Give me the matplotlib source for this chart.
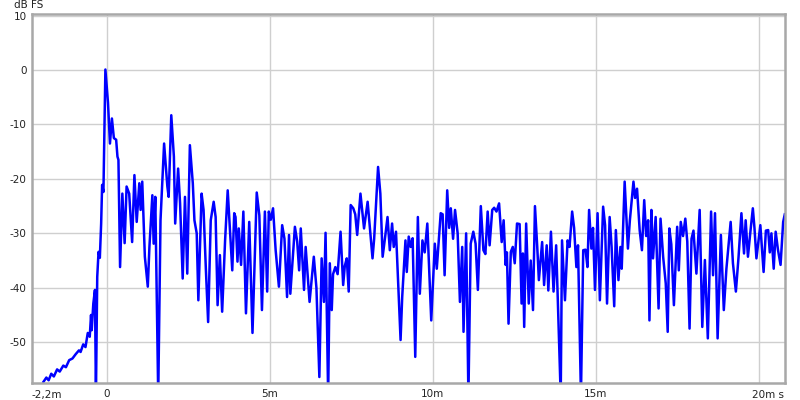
import matplotlib
matplotlib.use("Agg")
import matplotlib.pyplot as plt

# Impulse response (time in ms, level in dB FS)
t_ms = [
    -1.94, -1.85, -1.78, -1.70, -1.62, -1.52, -1.44, -1.33, -1.25, -1.15,
    -1.05, -0.95, -0.85, -0.80, -0.72, -0.65, -0.58, -0.52, -0.48, -0.46,
    -0.41, -0.36, -0.33, -0.29, -0.25, -0.21, -0.17, -0.14, -0.10, -0.04,
    0.04, 0.10, 0.16, 0.22, 0.29, 0.33, 0.36, 0.41, 0.48, 0.55,
    0.61, 0.69, 0.78, 0.85, 0.92, 1.00, 1.04, 1.09, 1.17, 1.26,
    1.31, 1.40, 1.44, 1.49, 1.58, 1.65, 1.76, 1.86, 1.90, 1.98,
    2.06, 2.10, 2.19, 2.25, 2.33, 2.40, 2.47, 2.55, 2.64, 2.69,
    2.76, 2.81, 2.91, 2.97, 3.04, 3.11, 3.19, 3.28, 3.34, 3.40,
    3.47, 3.54, 3.63, 3.71, 3.77, 3.85, 3.91, 3.95, 4.01, 4.05,
    4.12, 4.19, 4.27, 4.37, 4.47, 4.60, 4.68, 4.76, 4.85, 4.92,
    4.97, 5.03, 5.10, 5.18, 5.28, 5.38, 5.45, 5.53, 5.59, 5.63,
    5.77, 5.84, 5.90, 5.95, 6.05, 6.10, 6.22, 6.35, 6.43, 6.52,
    6.59, 6.66, 6.71, 6.79, 6.84, 6.90, 6.94, 7.01, 7.08, 7.17,
    7.25, 7.30, 7.36, 7.42, 7.48, 7.56, 7.62, 7.68, 7.78, 7.89,
    8.00, 8.15, 8.20, 8.32, 8.39, 8.46, 8.54, 8.61, 8.68, 8.75,
    8.80, 8.87, 9.01, 9.06, 9.16, 9.20, 9.26, 9.32, 9.38, 9.46,
    9.54, 9.60, 9.68, 9.75, 9.83, 9.95, 10.06, 10.12, 10.24, 10.30,
    10.36, 10.44, 10.50, 10.55, 10.62, 10.68, 10.76, 10.83, 10.90, 10.94,
    11.02, 11.09, 11.16, 11.24, 11.31, 11.38, 11.47, 11.55, 11.61, 11.68,
    11.74, 11.82, 11.88, 11.95, 12.03, 12.11, 12.17, 12.23, 12.27, 12.32,
    12.39, 12.45, 12.51, 12.58, 12.66, 12.72, 12.76, 12.80, 12.86, 12.94,
    13.00, 13.07, 13.13, 13.20, 13.25, 13.35, 13.41, 13.49, 13.54, 13.62,
    13.70, 13.78, 13.84, 13.92, 13.96, 14.05, 14.13, 14.19, 14.27, 14.33,
    14.40, 14.45, 14.54, 14.61, 14.68, 14.74, 14.79, 14.86, 14.91, 14.97,
    15.05, 15.12, 15.22, 15.28, 15.34, 15.42, 15.48, 15.56, 15.61, 15.69,
    15.75, 15.79, 15.88, 15.98, 16.04, 16.15, 16.20, 16.26, 16.34, 16.41,
    16.48, 16.54, 16.60, 16.64, 16.70, 16.75, 16.83, 16.92, 16.98, 17.06,
    17.14, 17.20, 17.25, 17.31, 17.39, 17.49, 17.54, 17.60, 17.67, 17.74,
    17.80, 17.87, 17.93, 17.99, 18.08, 18.18, 18.26, 18.34, 18.43, 18.53,
    18.59, 18.65, 18.73, 18.83, 18.92, 19.00, 19.13, 19.20, 19.29, 19.37,
    19.46, 19.54, 19.59, 19.66, 19.73, 19.81, 19.86, 19.92, 20.04, 20.14,
    20.21, 20.28, 20.33, 20.38, 20.45, 20.51, 20.58, 20.66, 20.74, 20.79,
]
level_db = [
    -57.3, -56.5, -57.0, -55.8, -56.3, -55.0, -55.4, -54.3, -54.6, -53.3,
    -53.0, -52.2, -51.5, -51.8, -50.4, -50.9, -48.3, -49.0, -45.0, -47.8,
    -42.9, -40.4, -60.0, -38.0, -33.4, -34.5, -28.2, -21.1, -22.4, 0.1,
    -6.0, -13.5, -8.9, -12.5, -12.8, -15.9, -16.5, -36.2, -22.7, -31.8,
    -21.4, -22.7, -31.6, -19.3, -27.9, -20.8, -25.7, -20.5, -34.3, -39.8,
    -32.5, -23.0, -31.9, -23.3, -60.0, -27.6, -13.5, -21.4, -23.3, -8.3,
    -15.9, -28.2, -18.1, -24.5, -38.3, -23.3, -37.4, -13.8, -20.8, -27.6,
    -30.0, -42.3, -22.7, -25.7, -36.5, -46.3, -27.6, -24.2, -27.0, -43.2,
    -34.0, -44.4, -31.3, -22.1, -28.5, -36.8, -26.3, -27.0, -35.2, -29.1,
    -35.8, -26.0, -44.7, -27.9, -48.3, -22.5, -26.7, -44.1, -26.0, -40.7,
    -26.0, -27.5, -25.4, -33.1, -39.8, -28.5, -31.0, -41.7, -30.3, -41.1,
    -28.8, -31.5, -36.8, -29.1, -40.4, -32.5, -42.6, -34.3, -40.0, -56.4,
    -34.6, -42.6, -29.9, -60.0, -35.5, -44.1, -37.5, -36.2, -37.5, -29.7,
    -39.5, -36.0, -34.6, -40.7, -24.8, -25.4, -26.5, -30.3, -22.7, -29.1,
    -24.2, -34.6, -31.0, -17.8, -22.7, -34.3, -30.5, -27.0, -33.1, -28.2,
    -32.5, -29.7, -49.6, -41.7, -31.3, -37.1, -30.6, -32.5, -30.9, -52.7,
    -27.0, -41.1, -31.3, -33.5, -28.2, -46.0, -31.9, -36.5, -26.3, -26.5,
    -37.7, -22.1, -29.0, -25.4, -31.0, -25.7, -30.0, -42.6, -32.5, -48.1,
    -30.0, -60.0, -31.9, -29.7, -31.9, -40.4, -25.0, -33.1, -33.8, -26.0,
    -32.2, -25.7, -25.3, -26.0, -24.5, -31.6, -27.6, -35.8, -33.5, -46.6,
    -33.4, -32.5, -35.5, -28.2, -28.3, -42.9, -33.7, -47.2, -28.2, -42.9,
    -35.0, -44.1, -25.0, -32.5, -38.6, -31.6, -39.5, -32.2, -40.5, -29.7,
    -40.7, -32.2, -44.4, -60.0, -31.3, -42.3, -31.3, -32.5, -26.0, -29.0,
    -36.2, -32.2, -60.0, -33.1, -33.0, -36.2, -25.7, -32.8, -29.0, -40.4,
    -26.3, -42.3, -25.1, -28.5, -42.9, -27.0, -32.5, -43.4, -29.4, -38.6,
    -32.5, -36.5, -20.5, -32.8, -27.6, -20.5, -23.5, -21.8, -29.4, -33.1,
    -23.9, -30.5, -27.6, -46.0, -25.7, -34.6, -27.0, -43.8, -27.3, -34.3,
    -39.2, -48.1, -29.1, -32.0, -43.2, -28.8, -36.8, -27.9, -30.5, -27.3,
    -31.5, -47.5, -31.0, -29.5, -37.4, -25.7, -47.2, -34.9, -49.3, -26.0,
    -37.7, -26.3, -49.3, -30.3, -44.1, -36.5, -27.9, -35.5, -40.7, -34.5,
    -26.3, -33.7, -27.6, -34.3, -30.0, -25.4, -29.0, -34.6, -28.5, -37.1,
    -29.5, -29.4, -33.5, -30.0, -36.5, -29.7, -33.0, -35.8, -27.9, -26.5,
]

y_ticks = [10, 0, -10, -20, -30, -40, -50]
x_ticks = [0, 5, 10, 15, 20]
x_tick_labels = ["0", "5m", "10m", "15m", ""]

fig = plt.figure(figsize=(8, 4), dpi=100)
ax = fig.add_axes([0.040, 0.0425, 0.941, 0.9225])
ax.plot(t_ms, level_db, color="#0000ff", linewidth=1.8, solid_joinstyle="round")

ax.set_xlim(-2.29, 20.79)
ax.set_ylim(-57.5, 10.3)
ax.set_xticks(x_ticks)
ax.set_xticklabels(x_tick_labels)
ax.set_yticks(y_ticks)
ax.set_yticklabels([str(v) for v in y_ticks])
ax.grid(True, color="#cfcfcf", linewidth=1.0)
ax.set_axisbelow(True)
ax.tick_params(length=0, labelsize=7.5, colors="#222222", pad=4)
for s in ax.spines.values():
    s.set_color("#a8a8a8")
    s.set_linewidth(1.8)

fig.text(14 / 800, 1 - 5 / 400, "dB FS", fontsize=7.5, color="#222222", ha="left", va="center")
ax.text(0.0, -0.02, "-2,2m", transform=ax.transAxes, fontsize=7.5, color="#222222",
        ha="left", va="top")
ax.text(19.78, -0.02, "20m s", transform=ax.get_xaxis_transform(), fontsize=7.5,
        color="#222222", ha="left", va="top")

fig.savefig("out.png", dpi=100, facecolor="white")
